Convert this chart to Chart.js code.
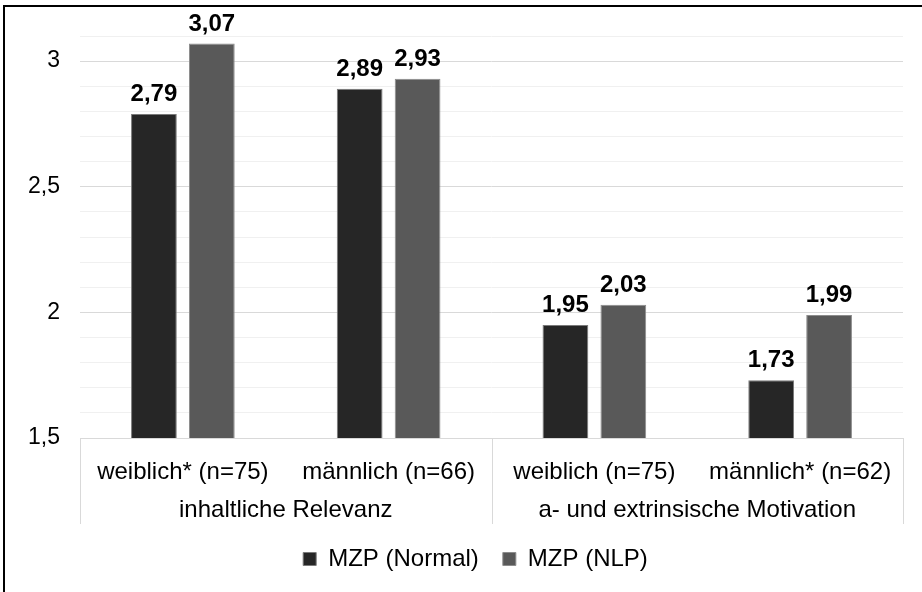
<!DOCTYPE html>
<html lang="de">
<head>
<meta charset="UTF-8">
<title>MZP Vergleich</title>
<script src="https://cdn.jsdelivr.net/npm/chart.js"></script>
<style>
  body { margin: 0; overflow: hidden; background: #fff; }
  .rahmen { position: absolute; left: 3px; top: 5px; width: 1000px; height: 1000px; border: 2px solid #000; }
  .grafico { position: absolute; left: 0; top: 0; width: 922px; height: 592px; }
</style>
</head>
<body>
<div class="rahmen"></div>
<div class="grafico"><canvas id="graficoBarras"></canvas></div>

<script>
    // daten aus der abbildung
    const kategorien = ['weiblich* (n=75)', 'männlich (n=66)', 'weiblich (n=75)', 'männlich* (n=62)'];
    const gruppen = ['inhaltliche Relevanz', 'a- und extrinsische Motivation'];
    const serien = ['MZP (Normal)', 'MZP (NLP)'];
    const werteNormal = [2.79, 2.89, 1.95, 1.73];
    const werteNLP = [3.07, 2.93, 2.03, 1.99];
    const yTicks = [1.5, 2, 2.5, 3];

    const schrift = '"Liberation Sans", Arial, sans-serif';

    function komma(v) {
        return String(v).replace('.', ',');
    }

    function istHauptTick(v) {
        return yTicks.some(t => Math.abs(t - v) < 1e-6);
    }

    // werte ueber den balken
    const wertLabels = {
        id: 'wertLabels',
        afterDatasetsDraw(chart) {
            const ctx = chart.ctx;
            ctx.save();
            ctx.font = 'bold 24px ' + schrift;
            ctx.fillStyle = '#000';
            ctx.textAlign = 'center';
            ctx.textBaseline = 'alphabetic';
            chart.data.datasets.forEach(function (ds, i) {
                chart.getDatasetMeta(i).data.forEach(function (bar, j) {
                    ctx.fillText(ds.data[j].toFixed(2).replace('.', ','), bar.x, bar.y - 13);
                });
            });
            ctx.restore();
        }
    };

    // trennlinien unter der achse + legende etwas nach rechts
    const trenner = {
        id: 'trenner',
        afterLayout(chart) {
            chart.legend.left += 24;
            chart.legend.right += 24;
        },
        afterDraw(chart) {
            const x = chart.scales.x;
            const x2 = chart.scales.x2;
            const ctx = chart.ctx;
            const mitte = (x.getPixelForValue(1) + x.getPixelForValue(2)) / 2;
            ctx.save();
            ctx.strokeStyle = '#d9d9d9';
            ctx.lineWidth = 1;
            [x.left, mitte, x.right].forEach(function (px) {
                const p = Math.round(px) + 0.5;
                ctx.beginPath();
                ctx.moveTo(p, chart.chartArea.bottom);
                ctx.lineTo(p, x2.bottom + 1);
                ctx.stroke();
            });
            ctx.restore();
        }
    };

    const config = {
        type: 'bar',
        data: {
            labels: kategorien,
            datasets: [{
                label: serien[0],
                data: werteNormal,
                backgroundColor: '#262626',
                borderColor: '#7a7a7a',
                borderWidth: 1,
                categoryPercentage: 0.563,
                barPercentage: 0.79
            }, {
                label: serien[1],
                data: werteNLP,
                backgroundColor: '#595959',
                borderColor: '#8c8c8c',
                borderWidth: 1,
                categoryPercentage: 0.563,
                barPercentage: 0.79
            }]
        },
        options: {
            responsive: true,
            maintainAspectRatio: false,
            animation: false,
            layout: {
                padding: { top: 36, right: 19, left: 0, bottom: 11 }
            },
            plugins: {
                tooltip: { enabled: false },
                legend: {
                    position: 'bottom',
                    labels: {
                        boxWidth: 13,
                        boxHeight: 13,
                        padding: 24,
                        color: '#000',
                        font: { size: 24, family: schrift }
                    }
                }
            },
            scales: {
                x: {
                    afterFit: function (scale) { scale.height = 49; },
                    grid: { display: false, drawTicks: false },
                    border: { display: true, color: '#d9d9d9' },
                    ticks: {
                        color: '#000',
                        padding: 20,
                        maxRotation: 0,
                        autoSkip: false,
                        font: { size: 24, family: schrift }
                    }
                },
                x2: {
                    type: 'category',
                    labels: gruppen,
                    position: 'bottom',
                    offset: true,
                    afterFit: function (scale) { scale.height = 36; },
                    grid: { display: false, drawTicks: false },
                    border: { display: false },
                    ticks: {
                        color: '#000',
                        padding: 9,
                        maxRotation: 0,
                        font: { size: 24, family: schrift }
                    }
                },
                y: {
                    min: 1.5,
                    max: 3.1,
                    afterFit: function (scale) { scale.width = 80; },
                    border: { display: false },
                    grid: {
                        drawTicks: false,
                        color: function (c) {
                            return istHauptTick(c.tick.value) ? '#d9d9d9' : '#f0f0f0';
                        }
                    },
                    ticks: {
                        stepSize: 0.1,
                        autoSkip: false,
                        padding: 20,
                        color: '#000',
                        font: { size: 23, family: schrift },
                        callback: function (v) {
                            return istHauptTick(v) ? komma(v) : '';
                        }
                    }
                }
            }
        },
        plugins: [wertLabels, trenner]
    };

    new Chart(document.getElementById('graficoBarras'), config);
</script>
</body>
</html>
